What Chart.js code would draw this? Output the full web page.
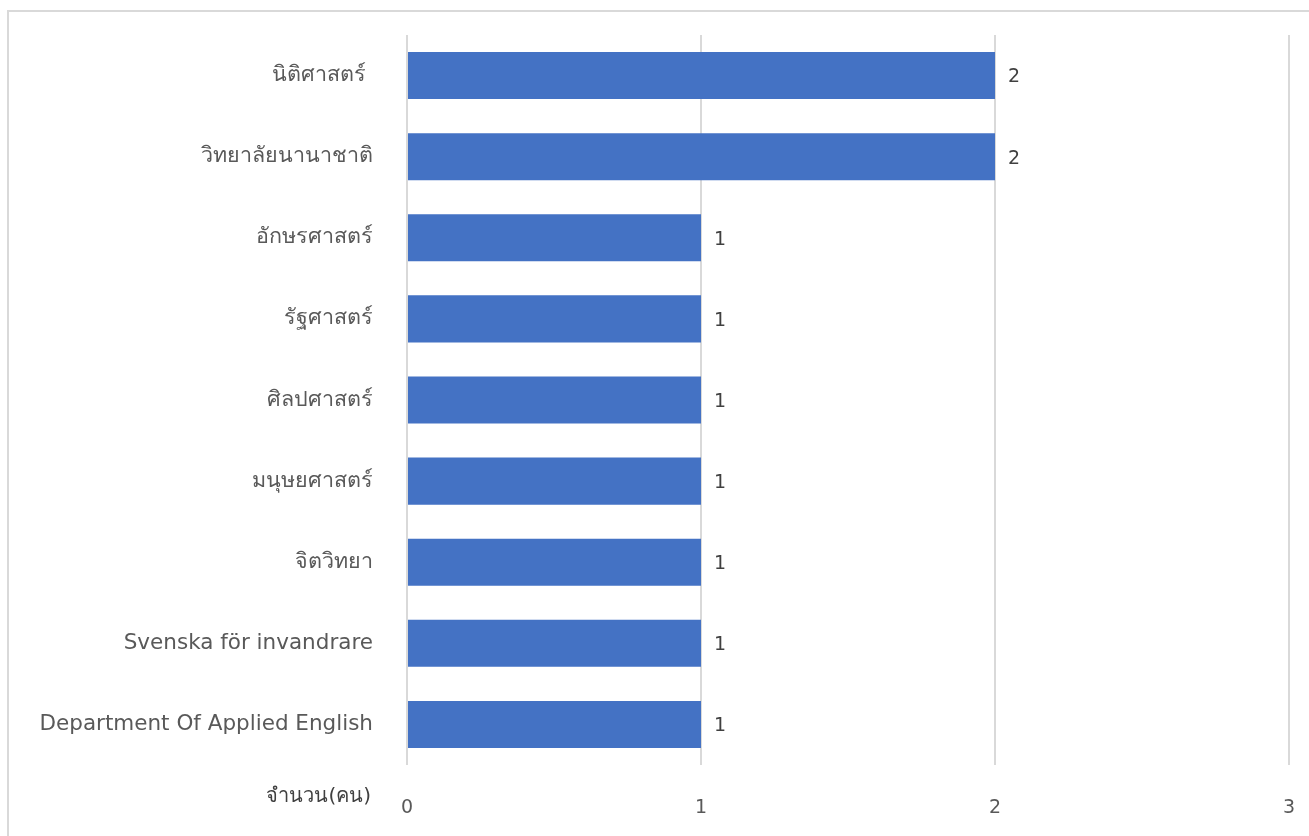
<!DOCTYPE html>
<html lang="th">
  <head>
    <meta charset="UTF-8" />
    <title>จำนวน(คน)</title>
    <script src="https://cdn.jsdelivr.net/npm/chart.js"></script>
    <style>
      html,
      body {
        margin: 0;
        padding: 0;
        background: #fff;
        overflow: hidden;
        width: 1309px;
        height: 836px;
      }
      .frame {
        position: absolute;
        left: 7px;
        top: 10px;
        width: 1320px;
        height: 840px;
        border: 2px solid #d9d9d9;
      }
      .wrap {
        position: absolute;
        left: 0;
        top: 0;
        width: 1309px;
        height: 836px;
      }
    </style>
  </head>
  <body>
    <div class="frame"></div>
    <div class="wrap">
      <canvas id="chart"></canvas>
    </div>

    <script>
      const categories = [
        "นิติศาสตร์ ",
        "วิทยาลัยนานาชาติ",
        "อักษรศาสตร์",
        "รัฐศาสตร์",
        "ศิลปศาสตร์",
        "มนุษยศาสตร์",
        "จิตวิทยา",
        "Svenska för invandrare",
        "Department Of Applied English",
      ];
      const counts = [2, 2, 1, 1, 1, 1, 1, 1, 1];
      const xTicks = [0, 1, 2, 3];
      const axisTitle = "จำนวน(คน)";

      const fontFamily = "'DejaVu Sans', 'Noto Sans', sans-serif";
      const textColor = "#595959";
      const clear = "rgba(0,0,0,0)";

      // value labels at the end of each bar
      const valueLabels = {
        id: "valueLabels",
        afterDatasetsDraw(chart) {
          const ctx = chart.ctx;
          const meta = chart.getDatasetMeta(0);
          ctx.save();
          ctx.font = "19px " + fontFamily;
          ctx.fillStyle = "#404040";
          ctx.textAlign = "left";
          ctx.textBaseline = "middle";
          meta.data.forEach((bar, i) => {
            ctx.fillText(String(counts[i]), bar.x + 13, bar.y + 2);
          });
          ctx.restore();
        },
      };

      // the "จำนวน(คน)" caption sits left of the x tick row
      const axisCaption = {
        id: "axisCaption",
        afterDraw(chart) {
          const ctx = chart.ctx;
          ctx.save();
          ctx.font = "20px " + fontFamily;
          ctx.fillStyle = "#404040";
          ctx.textAlign = "right";
          ctx.textBaseline = "middle";
          ctx.fillText(axisTitle, chart.chartArea.left - 36, chart.chartArea.bottom + 32);
          ctx.restore();
        },
      };

      new Chart(document.getElementById("chart"), {
        type: "bar",
        data: {
          labels: categories,
          datasets: [
            {
              data: counts,
              backgroundColor: "#4472C4",
              barPercentage: 0.58,
              categoryPercentage: 1,
            },
          ],
        },
        options: {
          indexAxis: "y",
          responsive: true,
          maintainAspectRatio: false,
          animation: false,
          layout: { padding: { top: 35, right: 20, left: 0, bottom: 0 } },
          plugins: {
            legend: { display: false },
            tooltip: { enabled: false },
          },
          scales: {
            x: {
              min: 0,
              max: 3,
              afterBuildTicks(scale) {
                scale.ticks = xTicks.map((v) => ({ value: v }));
              },
              afterFit(scale) {
                scale.height = 836 - 765;
              },
              grid: {
                color: "#d9d9d9",
                lineWidth: 2,
                drawTicks: true,
                tickLength: 32,
                tickColor: clear,
              },
              border: { display: false },
              ticks: {
                padding: 0,
                color: textColor,
                font: { size: 19, family: fontFamily },
              },
            },
            y: {
              afterFit(scale) {
                scale.width = 407;
              },
              grid: {
                color: clear,
                drawTicks: true,
                tickLength: 34,
                tickColor: clear,
              },
              border: { display: false },
              ticks: {
                padding: 0,
                color: textColor,
                font: { size: 21.5, family: fontFamily },
              },
            },
          },
        },
        plugins: [valueLabels, axisCaption],
      });
    </script>
  </body>
</html>
